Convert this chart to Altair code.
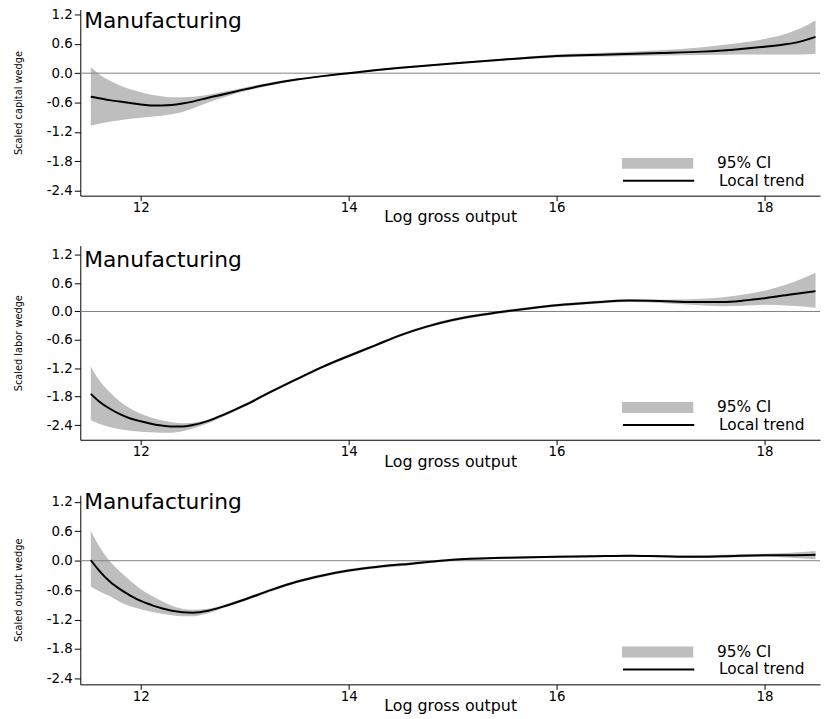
import altair as alt
import pandas as pd

# ---------------- data ----------------
panel_title = "Manufacturing"
x_title = "Log gross output"
y_titles = ["Scaled capital wedge", "Scaled labor wedge", "Scaled output wedge"]
legend_labels = ["95% CI", "Local trend"]
x_ticks = [12, 14, 16, 18]
y_ticks = [-2.4, -1.8, -1.2, -0.6, 0.0, 0.6, 1.2]

# capital wedge
x_cap = [11.52, 11.6, 11.7, 11.8, 11.9, 12.0, 12.1, 12.2, 12.3, 12.4, 12.5, 12.65, 12.8, 13.0, 13.25, 13.5,
         13.75, 14.0, 14.25, 14.5, 15.0, 15.5, 16.0, 16.5, 17.0, 17.4, 17.7, 18.0, 18.2, 18.35, 18.49]
fit_cap = [-0.48, -0.51, -0.55, -0.58, -0.61, -0.64, -0.66, -0.66, -0.65, -0.62, -0.58, -0.50, -0.43, -0.33,
           -0.22, -0.13, -0.06, 0.00, 0.06, 0.11, 0.20, 0.28, 0.35, 0.38, 0.41, 0.44, 0.48, 0.54, 0.59, 0.65, 0.74]
hi_cap = [0.12, -0.02, -0.15, -0.25, -0.33, -0.39, -0.44, -0.47, -0.49, -0.49, -0.48, -0.44, -0.38, -0.29,
          -0.19, -0.11, -0.04, 0.02, 0.08, 0.13, 0.22, 0.30, 0.38, 0.42, 0.47, 0.53, 0.60, 0.70, 0.80, 0.92, 1.08]
lo_cap = [-1.07, -1.03, -0.99, -0.96, -0.93, -0.91, -0.89, -0.87, -0.84, -0.79, -0.72, -0.60, -0.49, -0.37,
          -0.25, -0.15, -0.08, -0.02, 0.04, 0.09, 0.18, 0.26, 0.32, 0.34, 0.36, 0.37, 0.38, 0.38, 0.38, 0.38, 0.39]

# labor wedge
x_lab = [11.52, 11.6, 11.7, 11.8, 11.9, 12.0, 12.1, 12.2, 12.3, 12.4, 12.5, 12.65, 12.8, 13.0, 13.25, 13.5,
         13.75, 14.0, 14.25, 14.5, 14.75, 15.0, 15.25, 15.5, 15.75, 16.0, 16.35, 16.7, 17.0, 17.3, 17.6, 17.8,
         18.0, 18.25, 18.49]
fit_lab = [-1.74, -1.90, -2.05, -2.17, -2.26, -2.32, -2.37, -2.41, -2.43, -2.43, -2.40, -2.31, -2.18, -1.98,
           -1.70, -1.43, -1.17, -0.94, -0.72, -0.50, -0.32, -0.18, -0.08, 0.00, 0.07, 0.13, 0.19, 0.23, 0.22,
           0.20, 0.20, 0.23, 0.28, 0.36, 0.43]
hi_lab = [-1.16, -1.45, -1.70, -1.90, -2.05, -2.16, -2.24, -2.30, -2.34, -2.36, -2.35, -2.28, -2.15, -1.95,
          -1.67, -1.40, -1.14, -0.91, -0.69, -0.47, -0.29, -0.15, -0.05, 0.03, 0.10, 0.16, 0.22, 0.26, 0.25,
          0.26, 0.30, 0.36, 0.44, 0.60, 0.82]
lo_lab = [-2.29, -2.37, -2.44, -2.49, -2.52, -2.54, -2.55, -2.56, -2.56, -2.53, -2.47, -2.36, -2.22, -2.01,
          -1.73, -1.46, -1.20, -0.97, -0.75, -0.53, -0.35, -0.21, -0.11, -0.03, 0.04, 0.10, 0.16, 0.20, 0.18,
          0.14, 0.11, 0.12, 0.14, 0.12, 0.08]

# output wedge
x_out = [11.52, 11.6, 11.7, 11.8, 11.9, 12.0, 12.1, 12.2, 12.3, 12.4, 12.5, 12.65, 12.8, 13.0, 13.25, 13.5,
         13.75, 14.0, 14.3, 14.6, 15.0, 15.5, 16.0, 16.35, 16.7, 17.0, 17.3, 17.6, 18.0, 18.25, 18.49]
fit_out = [0.01, -0.20, -0.42, -0.58, -0.71, -0.82, -0.90, -0.97, -1.02, -1.05, -1.06, -1.02, -0.93, -0.79,
           -0.60, -0.43, -0.30, -0.20, -0.12, -0.06, 0.02, 0.06, 0.08, 0.09, 0.10, 0.09, 0.08, 0.09, 0.11, 0.11, 0.12]
hi_out = [0.61, 0.30, 0.00, -0.22, -0.41, -0.58, -0.71, -0.82, -0.92, -0.98, -1.00, -0.98, -0.90, -0.76,
          -0.57, -0.40, -0.27, -0.17, -0.09, -0.03, 0.04, 0.08, 0.10, 0.11, 0.12, 0.11, 0.11, 0.12, 0.14, 0.16, 0.20]
lo_out = [-0.53, -0.62, -0.72, -0.84, -0.93, -0.99, -1.04, -1.08, -1.11, -1.13, -1.13, -1.07, -0.96, -0.82,
          -0.63, -0.46, -0.33, -0.23, -0.15, -0.09, 0.00, 0.04, 0.06, 0.07, 0.08, 0.07, 0.06, 0.06, 0.08, 0.06, 0.03]

# ---------------- layout / style ----------------
FONT = "DejaVu Sans"
NARROW = "DejaVu Sans Condensed, DejaVu Sans"
CI_GRAY = "#bebebe"
ZERO_GRAY = "#7f7f7f"
W = 747
X_DOMAIN = [11.419, 18.533]
LABEL_EXPR = "(datum.value < 0 ? '-' : '') + format(abs(datum.value), '.1f')"


def make_panel(x, fit, lo, hi, ytitle, ydomain, height, title_top):
    df = pd.DataFrame({"x": x, "fit": fit, "lo": lo, "hi": hi,
                       "ci": legend_labels[0], "trend": legend_labels[1]})
    xscale = alt.Scale(domain=X_DOMAIN, nice=False, zero=False)
    yscale = alt.Scale(domain=ydomain, nice=False, zero=False)
    xaxis = alt.Axis(values=x_ticks, title=x_title, format="d", labelFlush=False, tickCount=20)
    yaxis = alt.Axis(values=y_ticks, title=ytitle, labelExpr=LABEL_EXPR, labelFlush=False,
                     labelOverlap=False, tickCount=20)
    leg_common = dict(title=None, orient="none", legendX=547, symbolSize=5184, labelOffset=24,
                      labelFont=FONT, labelFontSize=15.5, labelColor="black", padding=0)
    band = alt.Chart(df).mark_area(interpolate="monotone", opacity=1).encode(
        x=alt.X("x:Q", scale=xscale, axis=xaxis),
        y=alt.Y("lo:Q", scale=yscale, axis=yaxis),
        y2="hi:Q",
        fill=alt.Fill("ci:N", scale=alt.Scale(range=[CI_GRAY]),
                      legend=alt.Legend(legendY=height - 68.6,
                                        symbolType="M-1,-0.153L1,-0.153L1,0.153L-1,0.153Z",
                                        symbolStrokeWidth=0, symbolOpacity=1, **leg_common)),
    )
    zero = alt.Chart(pd.DataFrame({"z": [0.0]})).mark_rule(color=ZERO_GRAY, strokeWidth=1).encode(
        y=alt.Y("z:Q", scale=yscale, axis=yaxis)
    )
    line = alt.Chart(df).mark_line(interpolate="monotone", strokeWidth=2).encode(
        x=alt.X("x:Q", scale=xscale, axis=xaxis),
        y=alt.Y("fit:Q", scale=yscale, axis=yaxis),
        stroke=alt.Stroke("trend:N", scale=alt.Scale(range=["black"]),
                          legend=alt.Legend(legendY=height - 52, symbolType="stroke",
                                            symbolStrokeWidth=2, **leg_common)),
    )
    label = alt.Chart(pd.DataFrame({"t": [panel_title]})).mark_text(
        align="left", baseline="top", font=FONT, fontSize=22, color="black"
    ).encode(x=alt.value(4), y=alt.value(title_top), text="t:N")
    return alt.layer(band, zero, line, label).properties(width=W, height=height)


p1 = make_panel(x_cap, fit_cap, lo_cap, hi_cap, y_titles[0], [-2.5, 1.3], 188, 2)
p2 = make_panel(x_lab, fit_lab, lo_lab, hi_lab, y_titles[1], [-2.71, 1.39], 196, 4.3)
p3 = make_panel(x_out, fit_out, lo_out, hi_out, y_titles[2], [-2.52, 1.335], 191, -2.9)

indep = dict(x="independent", y="independent", fill="independent", stroke="independent")
inner = alt.vconcat(p2, p3, spacing=22).resolve_scale(**indep)
chart = alt.vconcat(p1, inner, spacing=20.5).resolve_scale(**indep)

chart = chart.properties(
    padding={"left": 4, "top": -5, "right": 0, "bottom": 5}
).configure_view(stroke=None).configure_axis(
    grid=False, domainColor="black", tickColor="black", domainWidth=1, tickWidth=1,
    labelColor="black", labelFont=FONT, labelFontSize=13.5, titleColor="black",
    titleFontWeight="normal",
).configure_axisX(
    tickSize=5, labelPadding=0, titlePadding=-5, titleFont=FONT, titleFontSize=16,
).configure_axisY(
    tickSize=6, labelPadding=2, titlePadding=23, titleFont=NARROW, titleFontSize=11,
)

chart.save("out.html", embed_options={"renderer": "svg", "actions": False})
